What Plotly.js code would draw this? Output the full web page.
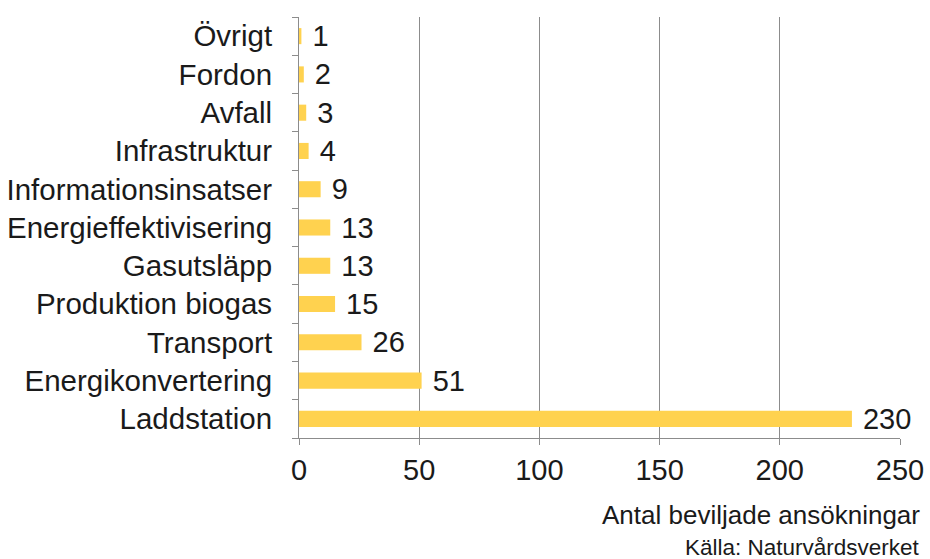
<!DOCTYPE html>
<html>
<head>
<meta charset="utf-8">
<script src="https://cdn.plot.ly/plotly-3.0.1.min.js"></script>
<style>html,body{margin:0;padding:0;background:#fff}#chart{width:930px;height:559px}</style>
</head>
<body>
<div id="chart"></div>
<script>
var categories = ["Laddstation","Energikonvertering","Transport","Produktion biogas","Gasutsläpp","Energieffektivisering","Informationsinsatser","Infrastruktur","Avfall","Fordon","Övrigt"];
var values = [230, 51, 26, 15, 13, 13, 9, 4, 3, 2, 1];
var xTicks = [0, 50, 100, 150, 200, 250];
var xTitle = "Antal beviljade ansökningar";
var source = "Källa: Naturvårdsverket";

var font = "Liberation Sans, Arial, sans-serif";
var trace = {
  type: "bar",
  orientation: "h",
  y: categories,
  x: values,
  texttemplate: " %{x}",
  textposition: "outside",
  constraintext: "none",
  cliponaxis: false,
  textfont: {family: font, size: 29, color: "#1a1a1a"},
  marker: {color: "#FFD24F"},
  width: 0.42,
  hoverinfo: "none"
};
var layout = {
  width: 930, height: 559,
  margin: {l: 299, r: 30, t: 17, b: 121},
  paper_bgcolor: "#fff", plot_bgcolor: "#fff",
  showlegend: false,
  font: {family: font, size: 29, color: "#1a1a1a"},
  xaxis: {
    range: [0, 250], tickvals: xTicks, ticktext: xTicks.map(String),
    showgrid: true, gridcolor: "#8c8c8c", gridwidth: 1,
    zeroline: false, showline: true, linecolor: "#8c8c8c", linewidth: 1,
    ticks: "outside", ticklen: 6, tickcolor: "#8c8c8c",
    tickfont: {family: font, size: 29, color: "#1a1a1a"},
    fixedrange: true
  },
  yaxis: {
    type: "category", categoryorder: "array", categoryarray: categories,
    showline: true, linecolor: "#8c8c8c", linewidth: 1,
    ticks: "outside", tickson: "boundaries", ticklen: 6, tickcolor: "#8c8c8c",
    showgrid: false, zeroline: false,
    tickfont: {family: font, size: 29.5, color: "#1a1a1a"},
    ticklabelstandoff: 20,
    fixedrange: true
  },
  annotations: [
    {text: xTitle, xref: "paper", yref: "paper", x: 1.037, y: -0.183, xanchor: "right", yanchor: "middle", showarrow: false, font: {family: font, size: 26, color: "#1a1a1a"}},
    {text: source, xref: "paper", yref: "paper", x: 1.037, y: -0.259, xanchor: "right", yanchor: "middle", showarrow: false, font: {family: font, size: 22.5, color: "#1a1a1a"}}
  ]
};
Plotly.newPlot("chart", [trace], layout, {displayModeBar: false, staticPlot: true});
</script>
</body>
</html>
